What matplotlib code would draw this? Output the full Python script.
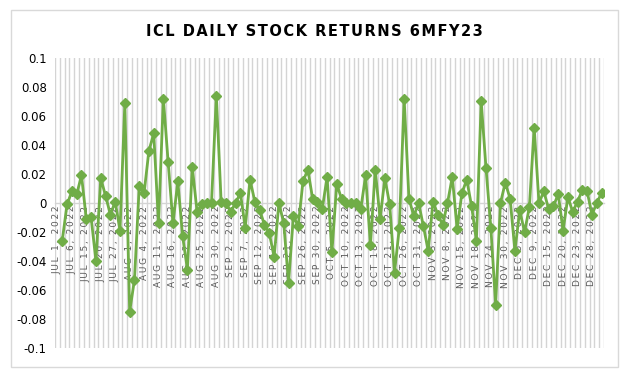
#!/usr/bin/env python

"""
 icl_returns_plot.py

 Purpose:
 --------
 Daily stock returns for ICL, first six months of FY23 (Jul - Dec 2022)
"""
import numpy as np

# Visual Stack
import matplotlib as mpl
mpl.use('Agg')
import matplotlib.pyplot as plt
from matplotlib.patches import Rectangle


#######################
#
# Data

# daily returns, one per trading day in the sheet (first row has no return)
returns = [np.nan,
           -0.026, -0.001, 0.008, 0.006, 0.019, -0.011, -0.010, -0.040, 0.017, 0.005,
           -0.008, 0.001, -0.019, 0.069, -0.075, -0.053, 0.012, 0.007, 0.036, 0.048,
           -0.014, 0.072, 0.028, -0.014, 0.015, -0.023, -0.046, 0.025, -0.006, -0.001,
           0.000, 0.000, 0.074, 0.001, 0.000, -0.006, 0.000, 0.007, -0.017, 0.016,
           0.001, -0.005, -0.015, -0.021, -0.037, 0.000, -0.014, -0.055, -0.009, -0.016,
           0.015, 0.023, 0.003, 0.001, -0.004, 0.018, -0.034, 0.013, 0.003, 0.000,
           0.000, 0.000, -0.004, 0.019, -0.029, 0.023, -0.011, 0.017, -0.001, -0.048,
           -0.017, 0.072, 0.003, -0.009, 0.000, -0.016, -0.033, 0.001, -0.008, -0.015,
           0.000, 0.018, -0.018, 0.007, 0.016, -0.002, -0.026, 0.070, 0.024, -0.017,
           -0.070, 0.000, 0.014, 0.003, -0.033, -0.005, -0.020, -0.003, 0.052, 0.000,
           0.008, -0.004, -0.002, 0.006, -0.019, 0.004, -0.006, 0.001, 0.009, 0.008,
           -0.008, 0.000, 0.007]

# excel shows every 3rd date on the category axis
tick_dates = ['JUL 1', 'JUL 6', 'JUL 15', 'JUL 20', 'JUL 27',
              'AUG 1', 'AUG 4', 'AUG 11', 'AUG 16', 'AUG 22', 'AUG 25', 'AUG 30',
              'SEP 2', 'SEP 7', 'SEP 12', 'SEP 16', 'SEP 21', 'SEP 26', 'SEP 30',
              'OCT 5', 'OCT 10', 'OCT 13', 'OCT 18', 'OCT 21', 'OCT 26', 'OCT 31',
              'NOV 3', 'NOV 8', 'NOV 15', 'NOV 18', 'NOV 24', 'NOV 30',
              'DEC 5', 'DEC 9', 'DEC 15', 'DEC 20', 'DEC 23', 'DEC 28']
tick_labels = [d + ', 2022' for d in tick_dates]

yticks = [0.1, 0.08, 0.06, 0.04, 0.02, 0, -0.02, -0.04, -0.06, -0.08, -0.1]

title = 'ICL DAILY STOCK RETURNS 6MFY23'


def spaced(s, gap=u'\u200a'):
    """fake excel's expanded character spacing"""
    return gap.join(list(s))


#######################
#
# Plot

W, H = 637, 378
fig = plt.figure(figsize=(W/100., H/100.), dpi=100)

# chart border
fig.patches.append(Rectangle((11./W, 1-367./H), (618.-11.)/W, (367.-10.)/H,
                             transform=fig.transFigure, fill=False,
                             edgecolor='#d9d9d9', linewidth=1.0))

ax = fig.add_axes([55./W, 1-348./H, (604.-55.)/W, (348.-58.)/H])

n = len(returns)
xcat = np.arange(n)

# vertical gridlines between categories
for xb in np.arange(n+1) - 0.5:
    ax.axvline(xb, color='#d4d4d4', linewidth=1.0, zorder=0)

ax.plot(xcat, returns, color='#70ad47', linewidth=2.0, marker='D',
        markersize=5, zorder=3)

ax.set_xlim(-0.5, n-0.5)
ax.set_ylim(-0.1, 0.1)

### axes styling
for s in ['top', 'right', 'left']:
    ax.spines[s].set_visible(False)
ax.spines['bottom'].set_position(('data', 0))
ax.spines['bottom'].set_color('#d4d4d4')
ax.spines['bottom'].set_linewidth(1.0)
ax.spines['bottom'].set_zorder(1)

ax.set_xticks(xcat[::3][:len(tick_labels)])
ax.set_xticklabels([spaced(t, u'\u2009') for t in tick_labels], rotation=90,
                   fontsize=6.5, color='#595959', family='DejaVu Sans',
                   va='top', ha='center')
ax.tick_params(axis='x', length=0, pad=2)

ax.set_yticks(yticks)
ax.set_yticklabels([('%g' % v) for v in yticks], fontsize=8.5, color='#000000',
                   family='DejaVu Sans')
ax.tick_params(axis='y', length=0, pad=6)

fig.text(314./W, 1-32./H, spaced(title), ha='center', va='center',
         fontsize=10.5, fontweight='bold', color='#000000', family='DejaVu Sans')

plt.savefig('out.png', dpi=100)
plt.close()
